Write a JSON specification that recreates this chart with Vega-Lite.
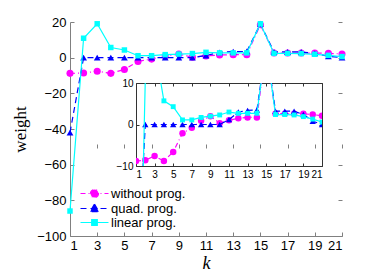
{
  "$schema": "https://vega.github.io/schema/vega-lite/v6.json",
  "autosize": "none",
  "width": 186,
  "height": 83,
  "padding": {"left": 136, "top": 83, "right": 66, "bottom": 111},
  "background": "white",
  "config": {"font": "Liberation Sans"},
  "view": {"stroke": "#333333", "strokeWidth": 1, "fill": "white"},
  "datasets": {
    "w": [
      {"k": 1, "s": "without prog.", "v": -8.8},
      {"k": 2, "s": "without prog.", "v": -8.6},
      {"k": 3, "s": "without prog.", "v": -7.6},
      {"k": 4, "s": "without prog.", "v": -8.8},
      {"k": 5, "s": "without prog.", "v": -6.6},
      {"k": 6, "s": "without prog.", "v": -2.1},
      {"k": 7, "s": "without prog.", "v": -0.8},
      {"k": 8, "s": "without prog.", "v": 0.9},
      {"k": 9, "s": "without prog.", "v": 2.0},
      {"k": 10, "s": "without prog.", "v": 0.3},
      {"k": 11, "s": "without prog.", "v": 1.0},
      {"k": 12, "s": "without prog.", "v": 1.5},
      {"k": 13, "s": "without prog.", "v": 1.7},
      {"k": 14, "s": "without prog.", "v": 1.7},
      {"k": 15, "s": "without prog.", "v": 18.5},
      {"k": 16, "s": "without prog.", "v": 2.6},
      {"k": 17, "s": "without prog.", "v": 2.6},
      {"k": 18, "s": "without prog.", "v": 2.6},
      {"k": 19, "s": "without prog.", "v": 2.6},
      {"k": 20, "s": "without prog.", "v": 2.4},
      {"k": 21, "s": "without prog.", "v": 2.1},
      {"k": 1, "s": "quad. prog.", "v": -42},
      {"k": 2, "s": "quad. prog.", "v": 0},
      {"k": 3, "s": "quad. prog.", "v": 0},
      {"k": 4, "s": "quad. prog.", "v": 0},
      {"k": 5, "s": "quad. prog.", "v": 0},
      {"k": 6, "s": "quad. prog.", "v": 0},
      {"k": 7, "s": "quad. prog.", "v": 0},
      {"k": 8, "s": "quad. prog.", "v": 0},
      {"k": 9, "s": "quad. prog.", "v": 0},
      {"k": 10, "s": "quad. prog.", "v": 0},
      {"k": 11, "s": "quad. prog.", "v": 1.2},
      {"k": 12, "s": "quad. prog.", "v": 3.0},
      {"k": 13, "s": "quad. prog.", "v": 3.4},
      {"k": 14, "s": "quad. prog.", "v": 3.5},
      {"k": 15, "s": "quad. prog.", "v": 19},
      {"k": 16, "s": "quad. prog.", "v": 3.2},
      {"k": 17, "s": "quad. prog.", "v": 3.2},
      {"k": 18, "s": "quad. prog.", "v": 3.2},
      {"k": 19, "s": "quad. prog.", "v": 2.4},
      {"k": 20, "s": "quad. prog.", "v": 0.8},
      {"k": 21, "s": "quad. prog.", "v": 0},
      {"k": 1, "s": "linear prog.", "v": -86},
      {"k": 2, "s": "linear prog.", "v": 10.9},
      {"k": 3, "s": "linear prog.", "v": 19},
      {"k": 4, "s": "linear prog.", "v": 5.7},
      {"k": 5, "s": "linear prog.", "v": 4.3},
      {"k": 6, "s": "linear prog.", "v": 1.1},
      {"k": 7, "s": "linear prog.", "v": 1.1},
      {"k": 8, "s": "linear prog.", "v": 1.7},
      {"k": 9, "s": "linear prog.", "v": 2.0},
      {"k": 10, "s": "linear prog.", "v": 2.3},
      {"k": 11, "s": "linear prog.", "v": 3.0},
      {"k": 12, "s": "linear prog.", "v": 2.7},
      {"k": 13, "s": "linear prog.", "v": 2.7},
      {"k": 14, "s": "linear prog.", "v": 2.7},
      {"k": 15, "s": "linear prog.", "v": 19},
      {"k": 16, "s": "linear prog.", "v": 2.4},
      {"k": 17, "s": "linear prog.", "v": 2.4},
      {"k": 18, "s": "linear prog.", "v": 2.3},
      {"k": 19, "s": "linear prog.", "v": 1.9},
      {"k": 20, "s": "linear prog.", "v": 1.3},
      {"k": 21, "s": "linear prog.", "v": 0.6}
    ]
  },
  "data": {"name": "w"},
  "resolve": {"scale": {"x": "independent", "y": "independent"}, "axis": {"x": "independent", "y": "independent"}},
  "layer": [
    {
      "resolve": {"axis": {"x": "independent", "y": "independent"}},
      "layer": [
        {
          "encoding": {
            "x": {"field": "k", "type": "quantitative",
              "scale": {"domain": [1, 21], "range": [-66, 206], "nice": false, "zero": false},
              "axis": {"orient": "bottom", "offset": 70, "values": [1, 3, 5, 7, 9, 11, 13, 15, 17, 19, 21], "grid": false, "domainColor": "#808080", "tickColor": "#808080", "tickSize": -4, "labelPadding": 7, "labelFontSize": 13, "labelColor": "black", "labelFont": "Liberation Sans",
                "title": "k", "titleFont": "Liberation Serif", "titleFontStyle": "italic", "titleFontWeight": "normal", "titleFontSize": 18, "titlePadding": 2}},
            "y": {"field": "v", "type": "quantitative",
              "scale": {"domain": [-100, 20], "range": [153, -61], "nice": false, "zero": false},
              "axis": {"orient": "left", "offset": 66, "values": [-100, -80, -60, -40, -20, 0, 20], "grid": false, "domainColor": "#808080", "tickColor": "#808080", "tickSize": -4, "labelPadding": 8, "labelFontSize": 13, "labelColor": "black", "labelFont": "Liberation Sans",
                "title": "weight", "titleFont": "Liberation Serif", "titleFontWeight": "normal", "titleFontSize": 17, "titlePadding": 7.5}}
          },
          "layer": [
            {"data": {"values": [{}]}, "mark": {"type": "rule", "color": "#808080", "strokeWidth": 1}, "encoding": {"x": {"datum": 1}, "x2": {"datum": 21}, "y": {"datum": 20}}},
            {"data": {"values": [{}]}, "mark": {"type": "rule", "color": "#808080", "strokeWidth": 1}, "encoding": {"x": {"datum": 21}, "y": {"datum": -100}, "y2": {"datum": 20}}},
            {"transform": [{"filter": "datum.s === 'without prog.'"}], "mark": {"type": "line", "color": "#ff00ff", "strokeWidth": 1.2, "strokeDash": [5, 3, 1, 3]}},
            {"transform": [{"filter": "datum.s === 'without prog.'"}], "mark": {"type": "point", "shape": "circle", "filled": true, "color": "#ff00ff", "size": 50, "opacity": 1}},
            {"transform": [{"filter": "datum.s === 'quad. prog.'"}], "mark": {"type": "line", "color": "#0000ff", "strokeWidth": 1.2, "strokeDash": [6, 4]}},
            {"transform": [{"filter": "datum.s === 'quad. prog.'"}], "mark": {"type": "point", "shape": "triangle-up", "filled": true, "color": "#0000ff", "size": 46, "opacity": 1}},
            {"transform": [{"filter": "datum.s === 'linear prog.'"}], "mark": {"type": "line", "color": "#00ffff", "strokeWidth": 1.2}},
            {"transform": [{"filter": "datum.s === 'linear prog.'"}], "mark": {"type": "point", "shape": "square", "filled": true, "color": "#00ffff", "size": 30, "opacity": 1}},
            {
              "mark": {"type": "point", "filled": true, "opacity": 0},
              "encoding": {
                "fill": {"field": "s", "type": "nominal",
                  "scale": {"domain": ["without prog.", "quad. prog.", "linear prog."], "range": ["#ff00ff", "#0000ff", "#00ffff"]},
                  "legend": {"orient": "none", "legendX": -48, "legendY": 104, "title": null, "labelFont": "Liberation Sans", "labelFontSize": 13, "labelColor": "black", "symbolSize": 64, "labelOffset": 10, "rowPadding": 0, "symbolStrokeWidth": 1.2, "symbolOpacity": 1,
                    "encode": {"symbols": {"update": {"opacity": {"value": 1}, "strokeWidth": {"value": 1.2}}}}}},
                "stroke": {"field": "s", "type": "nominal",
                  "scale": {"domain": ["without prog.", "quad. prog.", "linear prog."], "range": ["#ff00ff", "#0000ff", "#00ffff"]},
                  "legend": {"orient": "none", "legendX": -48, "legendY": 104, "title": null}},
                "shape": {"field": "s", "type": "nominal",
                  "scale": {"domain": ["without prog.", "quad. prog.", "linear prog."], "range": ["M-3.5,0H3.5M1,0A1,1,0,1,1,-1,0A1,1,0,1,1,1,0Z", "M-3.5,0H3.5M0,-1.1L1.1,0.8L-1.1,0.8Z", "M-3.5,0H3.5M-0.7,-0.7H0.7V0.7H-0.7Z"]},
                  "legend": {"orient": "none", "legendX": -48, "legendY": 104, "title": null}},
                "strokeDash": {"field": "s", "type": "nominal",
                  "scale": {"domain": ["without prog.", "quad. prog.", "linear prog."], "range": [[5, 3, 1, 3], [6, 4], [1, 0]]},
                  "legend": {"orient": "none", "legendX": -48, "legendY": 104, "title": null}}
              }
            }
          ]
        },
        {
          "mark": {"type": "point", "opacity": 0},
          "encoding": {
            "x": {"field": "k", "type": "quantitative",
              "axis": {"orient": "top", "offset": -61, "values": [1, 3, 5, 7, 9, 11, 13, 15, 17, 19, 21], "grid": false, "domain": false, "labels": false, "tickColor": "#808080", "tickSize": -4, "title": null}},
            "y": {"field": "v", "type": "quantitative",
              "axis": {"orient": "right", "offset": 20, "values": [-100, -80, -60, -40, -20, 0, 20], "grid": false, "domain": false, "labels": false, "tickColor": "#808080", "tickSize": -4, "title": null}}
          }
        }
      ]
    },
    {
      "resolve": {"axis": {"x": "independent", "y": "independent"}},
      "layer": [
        {
          "encoding": {
            "x": {"field": "k", "type": "quantitative",
              "scale": {"domain": [1, 21], "nice": false, "zero": false},
              "axis": {"orient": "bottom", "values": [1, 3, 5, 7, 9, 11, 13, 15, 17, 19, 21], "grid": false, "domain": false, "tickColor": "#333333", "tickSize": -3, "labelPadding": 6, "labelFontSize": 10, "labelColor": "black", "labelFont": "Liberation Sans", "title": null}},
            "y": {"field": "v", "type": "quantitative",
              "scale": {"domain": [-10, 10], "nice": false, "zero": false},
              "axis": {"orient": "left", "values": [-10, 0, 10], "grid": false, "domain": false, "tickColor": "#333333", "tickSize": -3, "labelPadding": 6, "labelFontSize": 10, "labelColor": "black", "labelFont": "Liberation Sans", "title": null}}
          },
          "layer": [
            {"data": {"values": [{}]}, "mark": {"type": "rule", "color": "black", "strokeWidth": 2}, "encoding": {"x": {"datum": 1}, "x2": {"datum": 21}, "y": {"datum": 0}}},
            {"transform": [{"filter": "datum.s === 'without prog.'"}], "mark": {"type": "line", "color": "#ff00ff", "strokeWidth": 1.2, "strokeDash": [5, 3, 1, 3], "clip": true}},
            {"transform": [{"filter": "datum.s === 'without prog.'"}], "mark": {"type": "point", "shape": "circle", "filled": true, "color": "#ff00ff", "size": 42, "opacity": 1, "clip": true}},
            {"transform": [{"filter": "datum.s === 'quad. prog.'"}], "mark": {"type": "line", "color": "#0000ff", "strokeWidth": 1.2, "strokeDash": [6, 4], "clip": true}},
            {"transform": [{"filter": "datum.s === 'quad. prog.'"}], "mark": {"type": "point", "shape": "triangle-up", "filled": true, "color": "#0000ff", "size": 40, "opacity": 1, "clip": true}},
            {"transform": [{"filter": "datum.s === 'linear prog.'"}], "mark": {"type": "line", "color": "#00ffff", "strokeWidth": 1.2, "clip": true}},
            {"transform": [{"filter": "datum.s === 'linear prog.'"}], "mark": {"type": "point", "shape": "square", "filled": true, "color": "#00ffff", "size": 24, "opacity": 1, "clip": true}}
          ]
        },
        {
          "mark": {"type": "point", "opacity": 0},
          "encoding": {
            "x": {"field": "k", "type": "quantitative",
              "axis": {"orient": "top", "values": [1, 3, 5, 7, 9, 11, 13, 15, 17, 19, 21], "grid": false, "domain": false, "labels": false, "tickColor": "#333333", "tickSize": -3, "title": null}},
            "y": {"field": "v", "type": "quantitative",
              "axis": {"orient": "right", "values": [-10, 0, 10], "grid": false, "domain": false, "labels": false, "tickColor": "#333333", "tickSize": -3, "title": null}}
          }
        }
      ]
    }
  ]
}
